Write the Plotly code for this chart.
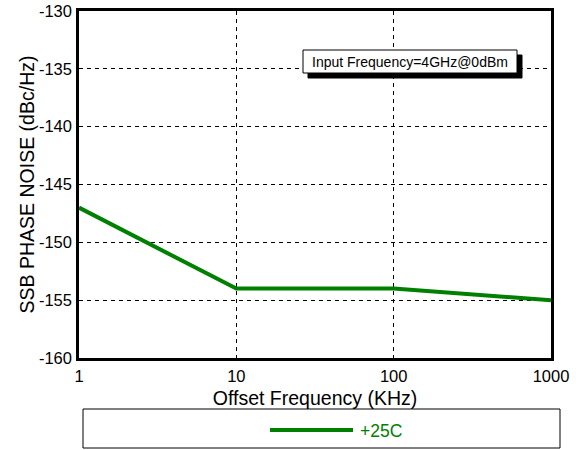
import plotly.graph_objects as go

freq_khz = [1, 10, 100, 1000]
noise_25c = [-147, -154, -154, -155]
x_ticks = [1, 10, 100, 1000]
y_ticks = [-160, -155, -150, -145, -140, -135, -130]
series_name = "+25C"
note_text = "Input Frequency=4GHz@0dBm"

GREEN = "#008000"
FONT = "Liberation Sans, Arial, sans-serif"

L, R, T, B = 79, 29, 11, 92
W, H = 580, 450
pw, ph = W - L - R, H - T - B

def px(xp):
    return (xp - L) / pw

def py(yp):
    return (H - B - yp) / ph

fig = go.Figure()
fig.add_trace(go.Scatter(x=freq_khz, y=noise_25c, mode="lines", name=series_name,
                         line=dict(color=GREEN, width=4), showlegend=False))

axis_common = dict(showline=True, linewidth=2.5, linecolor="black", mirror=True,
                   showgrid=True, gridcolor="black", gridwidth=1, griddash="4px,4px",
                   ticks="", zeroline=False, automargin=False,
                   tickfont=dict(family=FONT, size=16.5, color="black"))

fig.update_xaxes(type="log", range=[0, 3], tickvals=x_ticks,
                 ticktext=[str(v) for v in x_ticks], ticklabelstandoff=1,
                 title=dict(text="Offset Frequency (KHz)", standoff=8,
                            font=dict(family=FONT, size=19.5, color="black")),
                 **axis_common)
fig.update_yaxes(range=[-160, -130], tickvals=y_ticks,
                 ticktext=[str(v) for v in y_ticks], ticklabelstandoff=1,
                 title=dict(text="SSB PHASE NOISE (dBc/Hz)", standoff=0,
                            font=dict(family=FONT, size=19.5, color="black")),
                 **axis_common)

shapes = [
    # annotation shadow and box
    dict(type="rect", xref="paper", yref="paper", x0=px(308), x1=px(522), y0=py(78), y1=py(55),
         fillcolor="black", line=dict(color="black", width=1), layer="above"),
    dict(type="rect", xref="paper", yref="paper", x0=px(303), x1=px(517), y0=py(73), y1=py(50),
         fillcolor="white", line=dict(color="black", width=1), layer="above"),
    # legend box
    dict(type="rect", xref="paper", yref="paper", x0=px(83), x1=px(560), y0=py(448), y1=py(409),
         fillcolor="white", line=dict(color="black", width=1)),
    # legend sample line
    dict(type="line", xref="paper", yref="paper", x0=px(270), x1=px(353), y0=py(430), y1=py(430),
         line=dict(color=GREEN, width=4)),
]

annotations = [
    dict(xref="paper", yref="paper", x=px(410), y=py(61.5), text=note_text, showarrow=False,
         font=dict(family=FONT, size=14, color="black"), xanchor="center", yanchor="middle"),
    dict(xref="paper", yref="paper", x=px(358), y=py(430.5), text=series_name, showarrow=False,
         font=dict(family=FONT, size=17.5, color=GREEN), xanchor="left", yanchor="middle"),
]

fig.update_layout(width=W, height=H, margin=dict(l=L, r=R, t=T, b=B, autoexpand=False),
                  paper_bgcolor="white", plot_bgcolor="white",
                  shapes=shapes, annotations=annotations, showlegend=False,
                  font=dict(family=FONT, color="black"))

fig.write_html("out.html", config={"displayModeBar": False},
               post_script="document.body.style.margin='0px';")
